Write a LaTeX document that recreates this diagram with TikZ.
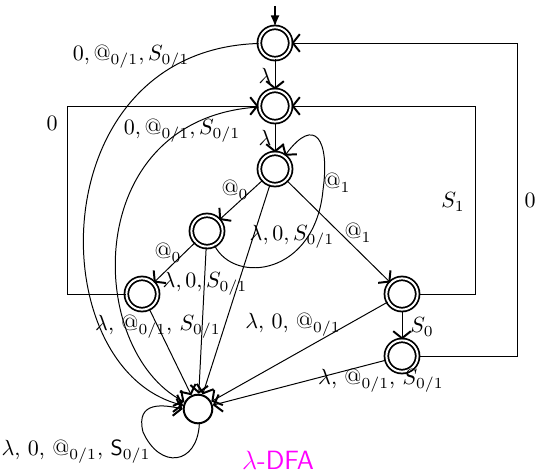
\documentclass[tikz,border=0pt]{standalone}
\usetikzlibrary{arrows.meta}
\definecolor{mag}{RGB}{255,0,255}
\begin{document}
\begin{tikzpicture}[x=0.4545pt,y=-0.4545pt,
  st/.style={circle, draw, double, double distance=0.9pt, line width=0.8pt, minimum size=14.2pt, inner sep=0pt},
  trapst/.style={circle, draw, line width=0.9pt, minimum size=13pt, inner sep=0pt},
  e/.style={-{Straight Barb[length=3.2pt,width=8pt,line width=0.9pt]}, line width=0.45pt},
  init/.style={-{Latex[length=5pt,width=4pt]}, line width=0.6pt},
  lbl/.style={inner sep=0pt}
]
\useasboundingbox (0,0) rectangle (537,472);
% states
\node[st] (q0) at (275,43) {};
\node[st] (q1) at (275,106) {};
\node[st] (q2) at (275,169) {};
\node[st] (q3) at (207,231) {};
\node[st] (q4) at (142,294) {};
\node[st] (q5) at (402,294) {};
\node[st] (q6) at (402,356) {};
\node[trapst] (t) at (198,409) {};
\coordinate (s) at (275,6);
% transitions
\draw[init] (s) -- (q0);
\draw[e] (q0) -- (q1);
\draw[e] (q1) -- (q2);
\draw[e] (q2) -- (q3);
\draw[e] (q3) -- (q4);
\draw[e] (q2) -- (q5);
\draw[e] (q5) -- (q6);
\draw[e] (q4) -- ++(-75,0) |- (q1);
\draw[e] (q5) -- ++(73,0) |- (q1);
\draw[e] (q6) -- ++(115,0) |- (q0);
\draw[e] (q3) .. controls (235,285) and (315,275) .. (323,190)
               .. controls (330,140) and (315,115) .. (q2);
\draw[e] (q0) .. controls (40,50) and (40,370) .. (t);
\draw[e] (q1) .. controls (80,118) and (85,350) .. (t);
\draw[e] (q2) -- (t);
\draw[e] (q3) -- (t);
\draw[e] (q4) -- (t);
\draw[e] (q5) -- (t);
\draw[e] (q6) -- (t);
\draw[e] (t.-85) .. controls (197,465) and (160,470) .. (143,432)
                 .. controls (135,400) and (165,405) .. (t.180);
% labels
\node[lbl] (l01) at (131,57) {$0, @_{0/1}, S_{0/1}$};
\node[lbl] (l02) at (182,131) {$0, @_{0/1}, S_{0/1}$};
\node[lbl] (la) at (265,76) {$\lambda$};
\node[lbl] (lb) at (265,138) {$\lambda$};
\node[lbl] (lc) at (235,190) {$@_0$};
\node[lbl] (ld) at (168,253) {$@_0$};
\node[lbl] (le) at (337,183) {$@_1$};
\node[lbl] (lf) at (358,233) {$@_1$};
\node[lbl] (lg) at (422,327) {$S_0$};
\node[lbl] (lh) at (453,202) {$S_1$};
\node[lbl] (li) at (52,123) {$0$};
\node[lbl] (lj) at (530,200) {$0$};
\node[lbl] (lk) at (292,237) {$\lambda, 0, S_{0/1}$};
\node[lbl] (ll) at (205,284) {$\lambda, 0, S_{0/1}$};
\node[lbl] (lm) at (158,327) {$\lambda$, $@_{0/1}$, $S_{0/1}$};
\node[lbl] (ln) at (293,325) {$\lambda$, 0, $@_{0/1}$};
\node[lbl] (lo) at (381,381) {$\lambda$, $@_{0/1}$, $S_{0/1}$};
\node[lbl] (lp) at (76,452) {$\lambda$, 0, $@_{0/1}$, \textsf{S}$_{0/1}$};
\node[lbl, text=mag, font=\sffamily\large] (title) at (278,460) {$\lambda$-DFA};
\end{tikzpicture}
\end{document}
